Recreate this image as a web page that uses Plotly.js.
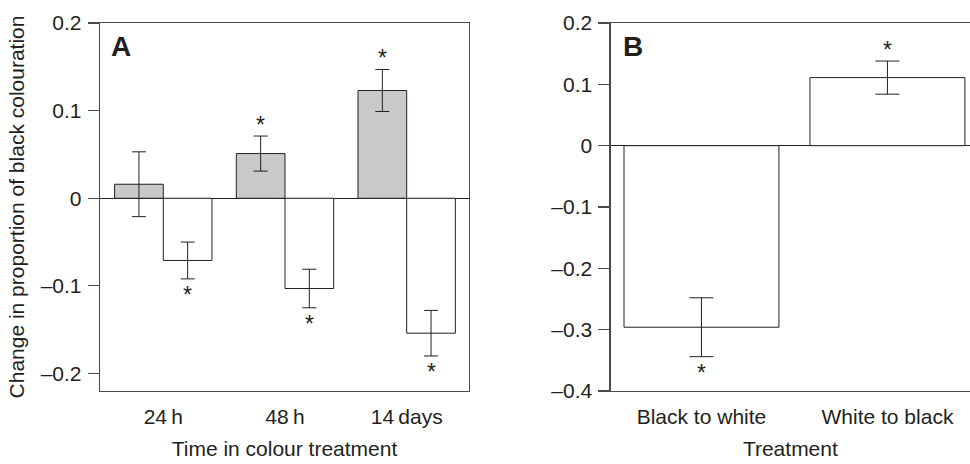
<!DOCTYPE html>
<html>
<head>
<meta charset="utf-8">
<script src="https://cdn.plot.ly/plotly-3.0.1.min.js"></script>
<style>html,body{margin:0;padding:0;background:#fff;}#chart{width:970px;height:464px;}</style>
</head>
<body>
<div id="chart"></div>
<script>
// Panel A data
const timeLabels = ['24\u2009h', '48\u2009h', '14\u2009days'];
const timeIndex = [0, 1, 2];
const toBlackA = [0.016, 0.051, 0.123];      // grey bars
const toBlackErrA = [0.037, 0.020, 0.024];
const toWhiteA = [-0.071, -0.103, -0.154];   // white bars
const toWhiteErrA = [0.021, 0.022, 0.026];
const sigBlackA = [false, true, true];
const sigWhiteA = [true, true, true];

// Panel B data
const treatLabels = ['Black to white', 'White to black'];
const treatIndex = [0, 1];
const valuesB = [-0.296, 0.111];
const errB = [0.048, 0.027];
const sigB = [true, true];

// Tick labels
const yTickValsA = [-0.2, -0.1, 0, 0.1, 0.2];
const yTickTextA = ['\u20130.2', '\u20130.1', '0', '0.1', '0.2'];
const yTickValsB = [-0.4, -0.3, -0.2, -0.1, 0, 0.1, 0.2];
const yTickTextB = ['\u20130.4', '\u20130.3', '\u20130.2', '\u20130.1', '0', '0.1', '0.2'];

const ink = '#231f20';
const axisCol = '#4a4a4a';
const greyFill = '#c8c9cb';
const FONT = 'Liberation Sans, Arial, sans-serif';

function starAnnotations(xs, vals, errs, sig, xref, yref) {
  const out = [];
  for (let i = 0; i < vals.length; i++) {
    if (!sig[i]) continue;
    const up = vals[i] >= 0;
    out.push({xref: xref, yref: yref, x: xs[i], y: up ? vals[i] + errs[i] : vals[i] - errs[i],
      text: '*', showarrow: false, xanchor: 'center', yanchor: 'middle',
      yshift: up ? 11 : -16, font: {family: FONT, size: 23, color: ink}});
  }
  return out;
}

const traces = [
  {type: 'bar', x: timeIndex, y: toBlackA, width: 0.4, offset: -0.4,
   marker: {color: greyFill, line: {color: ink, width: 1}},
   error_y: {type: 'data', array: toBlackErrA, visible: true, color: ink, thickness: 1, width: 7},
   xaxis: 'x', yaxis: 'y', showlegend: false},
  {type: 'bar', x: timeIndex, y: toWhiteA, width: 0.4, offset: 0,
   marker: {color: '#ffffff', line: {color: ink, width: 1}},
   error_y: {type: 'data', array: toWhiteErrA, visible: true, color: ink, thickness: 1, width: 7},
   xaxis: 'x', yaxis: 'y', showlegend: false},
  {type: 'bar', x: treatIndex, y: valuesB, width: 0.833,
   marker: {color: '#ffffff', line: {color: ink, width: 1}},
   error_y: {type: 'data', array: errB, visible: true, color: ink, thickness: 1, width: 12},
   xaxis: 'x2', yaxis: 'y2', showlegend: false}
];

const tickFont = {family: FONT, size: 21, color: ink};
const titleFont = {family: FONT, size: 21, color: ink};

const annotations = [
  {text: '<b>A</b>', xref: 'x domain', yref: 'y domain', x: 0.025, y: 0.985, xanchor: 'left', yanchor: 'top',
   showarrow: false, font: {family: FONT, size: 28, color: ink}},
  {text: '<b>B</b>', xref: 'x2 domain', yref: 'y2 domain', x: 0.028, y: 0.985, xanchor: 'left', yanchor: 'top',
   showarrow: false, font: {family: FONT, size: 28, color: ink}}
].concat(
  starAnnotations(timeIndex.map(v => v - 0.2), toBlackA, toBlackErrA, sigBlackA, 'x', 'y'),
  starAnnotations(timeIndex.map(v => v + 0.2), toWhiteA, toWhiteErrA, sigWhiteA, 'x', 'y'),
  starAnnotations(treatIndex, valuesB, errB, sigB, 'x2', 'y2')
);

const layout = {
  width: 970, height: 464,
  margin: {l: 0, r: 0, t: 0, b: 0},
  paper_bgcolor: '#fff', plot_bgcolor: '#fff',
  barmode: 'overlay',
  showlegend: false,
  font: {family: FONT, color: ink},
  xaxis: {domain: [0.1031, 0.4835], range: [-0.52, 2.512], tickvals: timeIndex, ticktext: timeLabels,
    ticks: '', showgrid: false, zeroline: false, showline: true, mirror: true, linecolor: axisCol, linewidth: 1.3,
    tickfont: tickFont, ticklabelstandoff: 6,
    title: {text: 'Time in colour treatment', font: titleFont, standoff: 14}, anchor: 'y'},
  yaxis: {domain: [0.1573, 0.9504], range: [-0.22, 0.2], tickvals: yTickValsA, ticktext: yTickTextA,
    ticks: 'outside', ticklen: 11, tickcolor: axisCol, tickwidth: 1.2,
    showgrid: false, zeroline: true, zerolinecolor: ink, zerolinewidth: 1.2,
    showline: true, mirror: true, linecolor: axisCol, linewidth: 1.3,
    tickfont: tickFont, ticklabelstandoff: 2,
    title: {text: 'Change in proportion of black colouration', font: titleFont, standoff: 10}, anchor: 'x'},
  xaxis2: {domain: [0.6296, 1.0], range: [-0.488, 1.444], tickvals: treatIndex, ticktext: treatLabels,
    ticks: '', showgrid: false, zeroline: false, showline: true, mirror: true, linecolor: axisCol, linewidth: 1.3,
    tickfont: tickFont, ticklabelstandoff: 6,
    title: {text: 'Treatment', font: titleFont, standoff: 14}, anchor: 'y2'},
  yaxis2: {domain: [0.1573, 0.9504], range: [-0.4, 0.2], tickvals: yTickValsB, ticktext: yTickTextB,
    ticks: 'outside', ticklen: 11, tickcolor: axisCol, tickwidth: 1.2,
    showgrid: false, zeroline: true, zerolinecolor: ink, zerolinewidth: 1.2,
    showline: true, mirror: false, linecolor: axisCol, linewidth: 1.3,
    tickfont: tickFont, ticklabelstandoff: 2, anchor: 'x2'},
  annotations: annotations
};

Plotly.newPlot('chart', traces, layout, {staticPlot: true, displayModeBar: false});
</script>
</body>
</html>
